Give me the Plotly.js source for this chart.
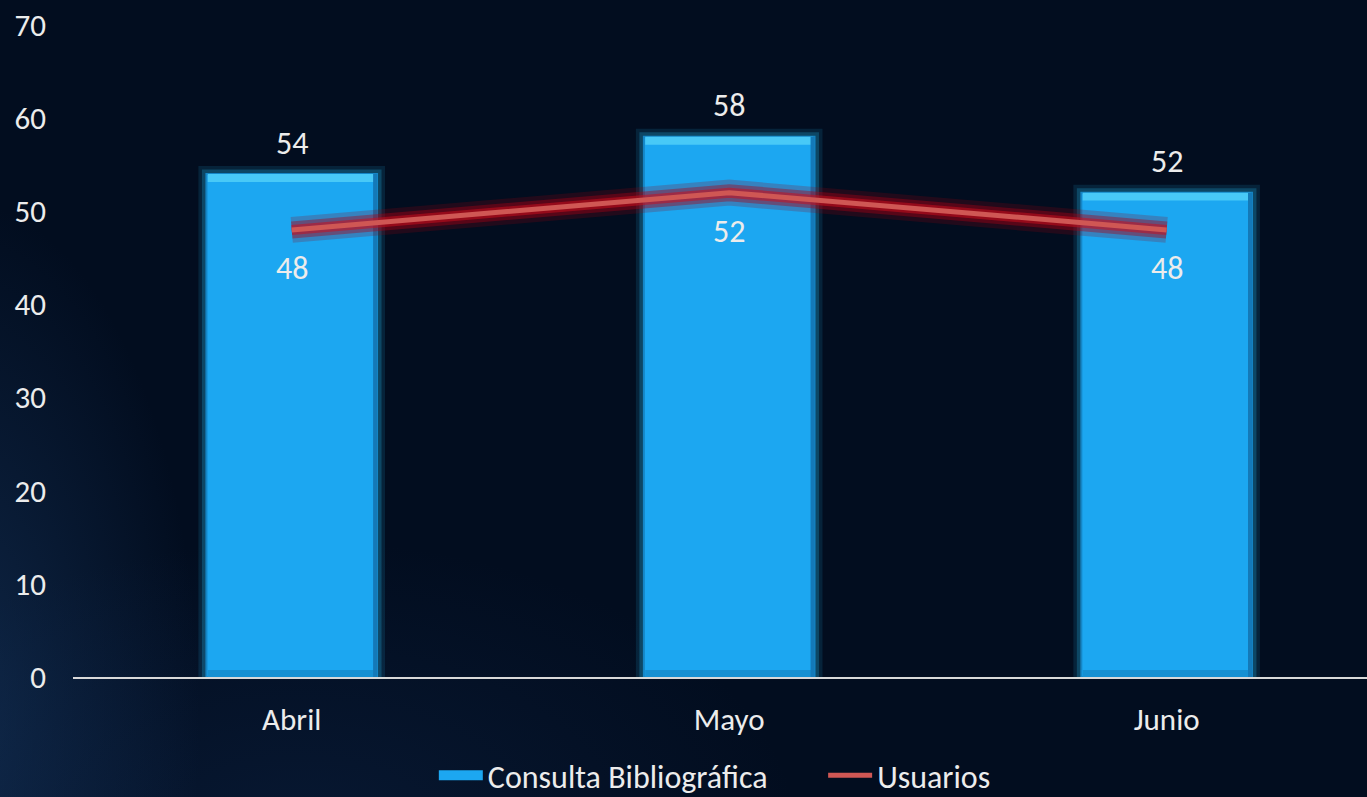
<!DOCTYPE html>
<html>
<head>
<meta charset="utf-8">
<script src="https://cdn.plot.ly/plotly-3.0.1.min.js"></script>
<style>
html,body{margin:0;padding:0;width:1367px;height:797px;overflow:hidden;}
body{
  background:
    radial-gradient(ellipse 240px 520px at -40px 720px, rgba(30,70,120,0.45), rgba(30,70,120,0) 100%),
    radial-gradient(ellipse 500px 300px at 300px 840px, rgba(20,50,95,0.30), rgba(20,50,95,0) 100%),
    #020d1f;
}
#chart{width:1367px;height:797px;}
</style>
</head>
<body>
<div id="chart"></div>
<script>
const categories = ["Abril", "Mayo", "Junio"];
const consulta = [54, 58, 52];
const usuarios = [48, 52, 48];
const yTicks = [0, 10, 20, 30, 40, 50, 60, 70];
const seriesNames = ["Consulta Bibliográfica", "Usuarios"];

const FONT = "Calibri, Carlito, Lato, 'Open Sans', sans-serif";
const FS = 31;
const FL = 32;
const TXT = "#ececec";
const BAR = "#1ca7f1";
const BW = 0.39;
const bevel = 0.85;
const edge = 0.009;

const traces = [
  // soft glow halo around bars
  {type:"bar", x:categories, y:consulta, width:BW, showlegend:false, hoverinfo:"skip",
   marker:{color:"rgba(0,0,0,0)", line:{color:"rgba(40,200,255,0.12)", width:16}}},
  {type:"bar", x:categories, y:consulta, width:BW, showlegend:false, hoverinfo:"skip",
   marker:{color:"rgba(0,0,0,0)", line:{color:"rgba(40,200,255,0.22)", width:9}}},
  // main bars
  {type:"bar", x:categories, y:consulta, width:BW, name:seriesNames[0], showlegend:false,
   marker:{color:BAR, line:{color:"#1586c6", width:2}}},
  // top bevel highlight
  {type:"bar", x:categories, y:consulta.map(()=>bevel), base:consulta.map(v=>v-bevel),
   width:BW-0.006, showlegend:false, hoverinfo:"skip",
   marker:{color:"#48c9f7", line:{width:0}}},
  // bottom bevel shade
  {type:"bar", x:categories, y:consulta.map(()=>0.75), base:consulta.map(()=>0),
   width:BW-0.006, showlegend:false, hoverinfo:"skip",
   marker:{color:"#1690d2", line:{width:0}}},
  // right edge shade
  {type:"bar", x:categories, y:consulta, width:edge, offset:BW/2-edge, showlegend:false,
   hoverinfo:"skip", marker:{color:"#1479b8", line:{width:0}}},
  // legend entry for bars
  {type:"scatter", mode:"lines", x:[categories[0]], y:[null],
   name:seriesNames[0] + "\u00a0\u00a0\u00a0\u00a0\u00a0\u00a0\u00a0",
   line:{color:BAR, width:16}},
  // line glow layers
  {type:"scatter", mode:"lines", x:categories, y:usuarios, showlegend:false, hoverinfo:"skip",
   line:{color:"rgba(150,0,15,0.22)", width:26}},
  {type:"scatter", mode:"lines", x:categories, y:usuarios, showlegend:false, hoverinfo:"skip",
   line:{color:"rgba(170,0,20,0.40)", width:17}},
  {type:"scatter", mode:"lines", x:categories, y:usuarios, showlegend:false, hoverinfo:"skip",
   line:{color:"rgba(200,15,30,0.55)", width:10}},
  // line core
  {type:"scatter", mode:"lines", x:categories, y:usuarios, name:seriesNames[1],
   line:{color:"#cf5754", width:5}}
];

const annotations = [];
categories.forEach((c,i)=>{
  annotations.push({x:c, y:consulta[i], xref:"x", yref:"y", text:String(consulta[i]),
    showarrow:false, yanchor:"middle", yshift:31, font:{family:FONT, size:FL, color:TXT}});
  annotations.push({x:c, y:usuarios[i], xref:"x", yref:"y", text:String(usuarios[i]),
    showarrow:false, yanchor:"middle", yshift:-39, font:{family:FONT, size:FL, color:TXT}});
});

const layout = {
  width:1367, height:797,
  margin:{l:73, r:0, t:25, b:120, autoexpand:false},
  paper_bgcolor:"rgba(0,0,0,0)", plot_bgcolor:"rgba(0,0,0,0)",
  barmode:"overlay",
  font:{family:FONT, size:FS, color:TXT},
  xaxis:{type:"category", range:[-0.5, 2.458], showgrid:false, zeroline:false,
    showline:true, linecolor:"#d9d9d9", linewidth:2, ticks:"", ticklabelstandoff:14,
    tickfont:{family:FONT, size:FS, color:TXT}, fixedrange:true},
  yaxis:{range:[0,70], tickvals:yTicks, ticktext:yTicks.map(String), showgrid:false,
    zeroline:false, showline:false, ticks:"", ticklabelstandoff:26,
    tickfont:{family:FONT, size:FS, color:TXT}, fixedrange:true},
  legend:{orientation:"h", x:0.496, xanchor:"center", yref:"container", y:0.027, yanchor:"middle",
    font:{family:FONT, size:FL, color:TXT}, bgcolor:"rgba(0,0,0,0)", itemwidth:44,
    traceorder:"normal"},
  annotations:annotations,
  showlegend:true
};

Plotly.newPlot("chart", traces, layout, {displayModeBar:false, staticPlot:true});
</script>
</body>
</html>
